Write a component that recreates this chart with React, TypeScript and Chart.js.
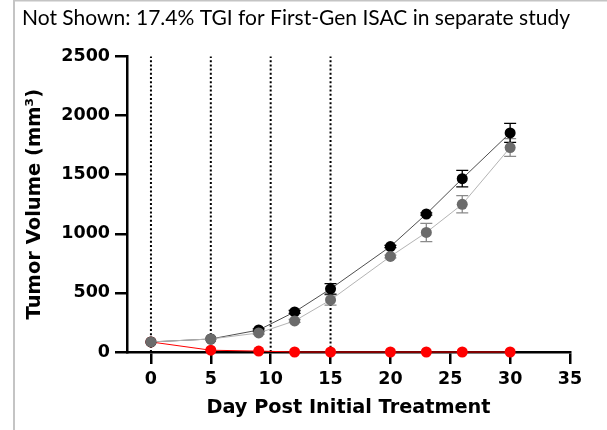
import React, { useEffect, useRef } from "react";
import { Chart, registerables } from "chart.js";

Chart.register(...registerables);

// Study days on which tumour volume was measured
const days = [0, 5, 9, 12, 15, 20, 23, 26, 30];

// Mean tumour volume (mm³) and SEM per group
const vehicleMean = [85, 110, 186, 339, 534, 892, 1167, 1466, 1853];
const vehicleSem = [0, 0, 10, 12, 45, 10, 10, 70, 80];
const antibodyMean = [85, 110, 161, 263, 440, 808, 1011, 1249, 1729];
const antibodySem = [0, 0, 10, 12, 43, 12, 77, 73, 75];
const isacMean = [85, 15, 8, 0, 0, 0, 0, 0, 0];

// Dosing days, shown as dotted vertical lines
const doseDays = [0, 5, 10, 15];

const xTicks = [0, 5, 10, 15, 20, 25, 30, 35];
const yTicks = [0, 500, 1000, 1500, 2000, 2500];

const titleText = "Not Shown: 17.4% TGI for First-Gen ISAC in separate study";

const toPoints = (ys: number[]) => days.map((d, i) => ({ x: d, y: ys[i] }));

// Vertical error bars with caps, drawn beneath the markers
const errorBars = {
  id: "errorBars",
  beforeDatasetsDraw(chart: any) {
    const { ctx, scales } = chart;
    const xs = scales.x;
    const ys = scales.y;
    chart.data.datasets.forEach((ds: any) => {
      if (!ds.errors) return;
      ctx.save();
      ctx.strokeStyle = ds.errorColor;
      ctx.lineWidth = 1.3;
      ds.data.forEach((p: any, i: number) => {
        const e = ds.errors[i];
        if (!e) return;
        const px = xs.getPixelForValue(p.x);
        const top = ys.getPixelForValue(p.y + e);
        const bot = ys.getPixelForValue(p.y - e);
        const cap = 6;
        ctx.beginPath();
        ctx.moveTo(px, top);
        ctx.lineTo(px, bot);
        ctx.moveTo(px - cap, top);
        ctx.lineTo(px + cap, top);
        ctx.moveTo(px - cap, bot);
        ctx.lineTo(px + cap, bot);
        ctx.stroke();
      });
      ctx.restore();
    });
  },
};

// Light grey frame along the left and top edges
const frame = {
  id: "frame",
  beforeDraw(chart: any) {
    const { ctx } = chart;
    ctx.save();
    ctx.fillStyle = "#ffffff";
    ctx.fillRect(0, 0, chart.width, chart.height);
    ctx.fillStyle = "#c4c4c4";
    ctx.fillRect(13, 0, 2, chart.height);
    ctx.fillRect(13, 0, chart.width - 13, 1.5);
    ctx.restore();
  },
};

const plainNumber = (v: any) => String(v);

export default function App() {
  const canvasRef = useRef<HTMLCanvasElement | null>(null);

  useEffect(() => {
    const canvas = canvasRef.current;
    if (!canvas) return;

    const doseLines = doseDays.map((d) => ({
      type: "line" as const,
      data: [
        { x: d, y: 0 },
        { x: d, y: 2500 },
      ],
      borderColor: "#000000",
      borderWidth: 2,
      borderDash: [2, 2.2],
      pointRadius: 0,
      clip: false as const,
    }));

    const chart = new Chart(canvas, {
      type: "line",
      data: {
        datasets: [
          {
            label: "Antibody",
            data: toPoints(antibodyMean),
            borderColor: "#b4b4b4",
            borderWidth: 1,
            backgroundColor: "#6b6b6b",
            pointBackgroundColor: "#6b6b6b",
            pointBorderColor: "#6b6b6b",
            pointRadius: 5.5,
            pointBorderWidth: 0,
            clip: false,
            errors: antibodySem,
            errorColor: "#8a8a8a",
          } as any,
          {
            label: "Vehicle",
            data: toPoints(vehicleMean),
            borderColor: "#3a3a3a",
            borderWidth: 0.9,
            backgroundColor: "#000000",
            pointBackgroundColor: "#000000",
            pointBorderColor: "#000000",
            pointRadius: 5.5,
            pointBorderWidth: 0,
            clip: false,
            errors: vehicleSem,
            errorColor: "#000000",
          } as any,
          {
            label: "ISAC",
            data: toPoints(isacMean),
            borderColor: "#ff0000",
            borderWidth: 1,
            backgroundColor: "#ff0000",
            pointBackgroundColor: "#ff0000",
            pointBorderColor: "#ff0000",
            pointRadius: 5.5,
            pointBorderWidth: 0,
            clip: false,
          } as any,
          ...doseLines,
        ],
      },
      options: {
        responsive: false,
        animation: false,
        devicePixelRatio: 1,
        layout: { padding: { left: 22, right: 37, top: 0, bottom: 0 } },
        plugins: {
          legend: { display: false },
          tooltip: { enabled: false },
          title: {
            display: true,
            text: titleText,
            align: "start",
            color: "#000000",
            font: { family: "Lato", size: 22, weight: "normal" },
            padding: { top: 5, bottom: 25 },
          },
        },
        scales: {
          x: {
            type: "linear",
            min: -2,
            max: 35,
            afterBuildTicks: (scale: any) => {
              scale.ticks = xTicks.map((v) => ({ value: v }));
            },
            afterFit: (scale: any) => {
              scale.height = 78;
            },
            border: { display: true, color: "#000000", width: 2.5 },
            grid: {
              display: true,
              drawOnChartArea: false,
              drawTicks: true,
              tickLength: 12,
              color: "#000000",
              lineWidth: 2.5,
            },
            ticks: {
              color: "#000000",
              padding: 5,
              maxRotation: 0,
              callback: plainNumber,
              font: { family: "DejaVu Sans", size: 17.5, weight: "bold" },
            },
            title: {
              display: true,
              text: "Day Post Initial Treatment",
              color: "#000000",
              font: { family: "DejaVu Sans", size: 19.3, weight: "bold" },
              padding: { top: 0, bottom: 10 },
            },
          },
          y: {
            type: "linear",
            min: 0,
            max: 2500,
            afterBuildTicks: (scale: any) => {
              scale.ticks = yTicks.map((v) => ({ value: v }));
            },
            afterFit: (scale: any) => {
              scale.width = 105;
            },
            border: { display: true, color: "#000000", width: 2.5 },
            grid: {
              display: true,
              drawOnChartArea: false,
              drawTicks: true,
              tickLength: 12,
              color: "#000000",
              lineWidth: 2.5,
            },
            ticks: {
              color: "#000000",
              padding: 5,
              callback: plainNumber,
              font: { family: "DejaVu Sans", size: 17.5, weight: "bold" },
            },
            title: {
              display: true,
              text: "Tumor Volume (mm³)",
              color: "#000000",
              font: { family: "DejaVu Sans", size: 19.5, weight: "bold" },
              padding: { top: 1, bottom: 0 },
            },
          },
        },
      },
      plugins: [frame, errorBars],
    });

    return () => chart.destroy();
  }, []);

  return (
    <div style={{ position: "absolute", left: 0, top: 0, width: 607, height: 430 }}>
      <canvas ref={canvasRef} width={607} height={430} />
    </div>
  );
}
